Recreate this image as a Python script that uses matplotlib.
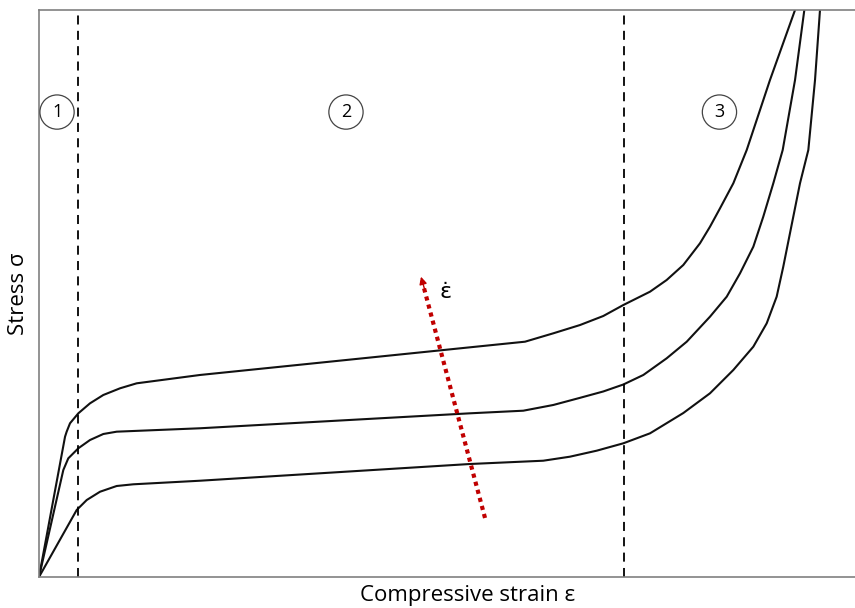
import matplotlib
matplotlib.use('Agg')
from matplotlib import pyplot as plt

# strain / stress (normalised 0-100)
strain_high = [0, 3.19, 3.39, 3.80, 4.82, 6.25, 7.88, 9.93, 11.97, 19.73, 52.82, 59.56,
               63.03, 66.30, 69.15, 71.61, 74.88, 76.92, 78.96, 81.00, 82.23, 83.46,
               85.09, 86.73, 89.58, 92.65]
stress_high = [0, 24.74, 25.63, 27.11, 28.87, 30.63, 32.10, 33.28, 34.16, 35.63, 40.51, 41.50,
               42.98, 44.44, 46.03, 47.97, 50.32, 52.38, 55.03, 58.85, 61.78, 65.03,
               69.44, 75.31, 87.65, 100]

strain_mid = [0, 2.98, 3.59, 4.82, 6.25, 7.88, 9.52, 19.73, 52.82, 59.35, 63.03, 66.30,
              69.15, 71.61, 74.06, 76.92, 79.38, 82.23, 84.28, 85.91, 87.54, 88.76,
              89.99, 91.14, 92.65, 93.79]
stress_mid = [0, 18.87, 20.93, 22.70, 24.16, 25.22, 25.63, 26.23, 28.87, 29.33, 30.34, 31.60,
              32.72, 33.95, 35.63, 38.57, 41.50, 45.91, 49.44, 53.56, 58.25, 63.55,
              69.44, 75.31, 87.65, 100]

strain_low = [0, 4.62, 5.85, 7.48, 9.52, 11.56, 19.73, 52.82, 61.80, 65.07, 68.35, 71.61,
              74.88, 78.96, 82.23, 85.09, 87.54, 89.18, 90.40, 91.21, 92.03, 93.26,
              94.28, 95.10, 95.71]
stress_low = [0, 11.82, 13.58, 15.04, 16.05, 16.35, 16.98, 19.93, 20.51, 21.22, 22.28, 23.58,
              25.34, 28.92, 32.40, 36.51, 40.62, 44.74, 49.44, 54.73, 60.62, 69.44,
              75.31, 87.65, 100]

region_bounds = [4.78, 71.69]
region_labels = ['1', '2', '3']
region_label_x = [2.21, 37.62, 83.39]
region_label_y = 82.0

# strain-rate arrow: start -> tip
arrow_strain = [54.66, 46.81]
arrow_stress = [10.41, 52.96]

fig = plt.figure(figsize=(8.55, 6.08), dpi=100)
ax = fig.add_axes([39 / 855, 31 / 608, 816 / 855, 567 / 608])
ax.set_xlim(0, 100)
ax.set_ylim(0, 100)

for sx, sy in [(strain_high, stress_high), (strain_mid, stress_mid), (strain_low, stress_low)]:
    ax.plot(sx, sy, color='#111111', lw=1.5, solid_joinstyle='round')

for b in region_bounds:
    ax.axvline(b, color='black', lw=1.3, linestyle=(0, (5, 3.5)))

for lab, lx in zip(region_labels, region_label_x):
    ax.text(lx, region_label_y, lab, ha='center', va='center', fontsize=13,
            family='Open Sans',
            bbox=dict(boxstyle='circle,pad=0.45', fc='white', ec='#444444', lw=0.9))

red = '#c00000'
ax.plot(arrow_strain, arrow_stress, color=red, lw=3, linestyle=(0, (1, 1)),
        dash_capstyle='butt')
ax.annotate('', xy=(arrow_strain[1], arrow_stress[1]),
            xytext=(arrow_strain[1] + 0.5, arrow_stress[1] - 2.5),
            arrowprops=dict(arrowstyle='-|>', color=red, lw=1, mutation_scale=11,
                            shrinkA=0, shrinkB=0))
ax.text(49.84, 50.26, 'ε\u0307', fontsize=16, ha='center', va='center',
        family='DejaVu Sans')

for s in ['left', 'bottom', 'top']:
    ax.spines[s].set_color('#808080')
    ax.spines[s].set_linewidth(1.2)
ax.spines['right'].set_visible(False)
ax.set_xticks([])
ax.set_yticks([])

ax.set_xlabel('Compressive strain ε', fontsize=16, family='Open Sans', va='center')
ax.set_ylabel('Stress σ', fontsize=16, family='Open Sans', va='center')
ax.xaxis.set_label_coords((468 - 39) / 816, -(596 - 577) / 567)
ax.yaxis.set_label_coords(-(39 - 19) / 816, 0.5)

fig.savefig('out.png', dpi=100)
